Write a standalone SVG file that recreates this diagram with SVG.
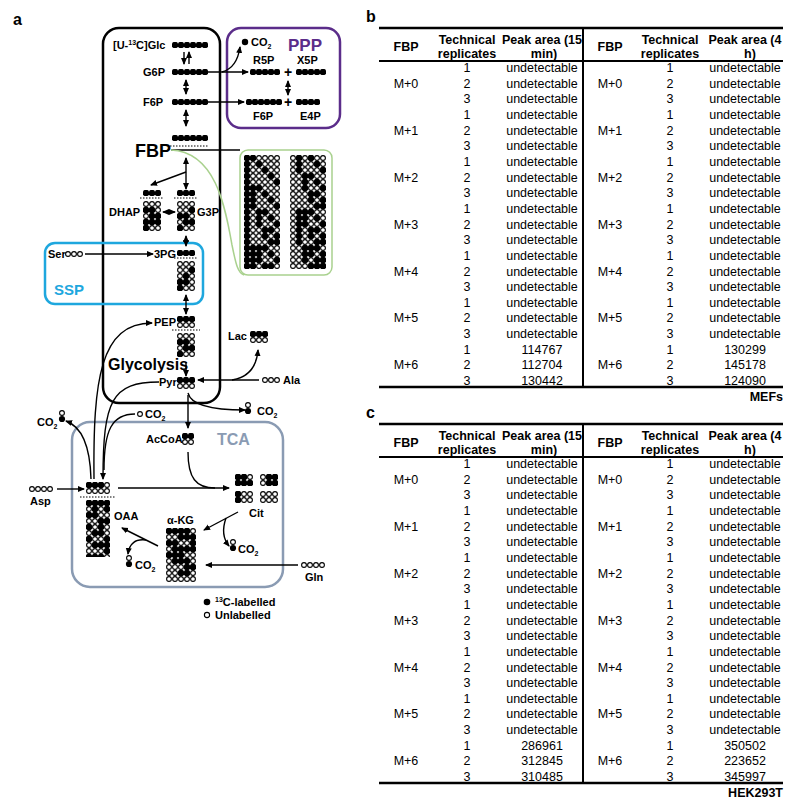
<svg xmlns="http://www.w3.org/2000/svg" width="800" height="811" viewBox="0 0 800 811">
<style>
text{font-family:"Liberation Sans",Arial,sans-serif;fill:#000}
.lb{font-weight:bold;font-size:11px}
.t{font-size:12.5px;text-anchor:middle}
.th{font-size:12.5px;font-weight:bold;text-anchor:middle}
.c{fill:none;stroke:#000;stroke-width:1.4}
.dot{stroke:#000;stroke-width:1;stroke-dasharray:1.5 1.5}
</style>
<defs>
<pattern id="o" width="6" height="6" patternUnits="userSpaceOnUse"><circle cx="3" cy="3" r="2.4" fill="#fff" stroke="#000" stroke-width="1.1"/></pattern>
<pattern id="f" width="6" height="6" patternUnits="userSpaceOnUse"><circle cx="3" cy="3" r="3.2" fill="#000"/></pattern>
<marker id="a" markerWidth="8" markerHeight="8" refX="6" refY="4" orient="auto" markerUnits="userSpaceOnUse"><path d="M0,1 L7,4 L0,7 Z" fill="#000"/></marker>
<marker id="s" markerWidth="8" markerHeight="8" refX="1" refY="4" orient="auto" markerUnits="userSpaceOnUse"><path d="M7,1 L0,4 L7,7 Z" fill="#000"/></marker>
</defs>
<rect width="800" height="811" fill="#fff"/>
<text x="13" y="25" font-size="16" font-weight="bold">a</text>
<text x="366" y="22" font-size="16" font-weight="bold">b</text>
<text x="366" y="418" font-size="16" font-weight="bold">c</text>

<g id="boxes">
<rect x="103" y="28" width="117" height="375" rx="16" fill="none" stroke="#000" stroke-width="2.5"/>
<rect x="227" y="28" width="113" height="100" rx="14" fill="none" stroke="#5b2d8a" stroke-width="2.5"/>
<text x="288" y="51" font-size="17" font-weight="bold" fill="#5b2d8a" style="fill:#5b2d8a">PPP</text>
<rect x="45" y="243" width="158" height="61" rx="10" fill="none" stroke="#1ea7de" stroke-width="2.5"/>
<text x="54" y="295" font-size="15" font-weight="bold" style="fill:#1ea7de">SSP</text>
<rect x="72" y="422" width="211" height="165" rx="18" fill="none" stroke="#8a9bb3" stroke-width="2.5"/>
<text x="217" y="445" font-size="16" font-weight="bold" style="fill:#8a9bb3">TCA</text>
<rect x="240" y="150" width="92" height="125" rx="8" fill="none" stroke="#a9d18e" stroke-width="1.5"/>
<text x="108" y="370" font-size="16" font-weight="bold">Glycolysis</text>
</g>

<g id="connectors">
<path class="c" d="M171,150 C205,150 225,150 240,150"/>
<path d="M171,150 C215,152 225,205 232,245 C236,265 238,273 244,275" fill="none" stroke="#a9d18e" stroke-width="1.5"/>
<path class="c" d="M184,52 L184,64" marker-end="url(#a)"/>
<path class="c" d="M189,64 L189,52" marker-end="url(#a)"/>
<path class="c" d="M208,72 L248,72" marker-end="url(#a)"/>
<path class="c" d="M222,72 Q237,68 240,47" marker-end="url(#a)"/>
<path class="c" d="M288,81 L288,95" marker-start="url(#s)" marker-end="url(#a)"/>
<path class="c" d="M208,102 L244,102" marker-end="url(#a)"/>
<path class="c" d="M186,80 L186,94" marker-start="url(#s)" marker-end="url(#a)"/>
<path class="c" d="M186,110 L186,126" marker-start="url(#s)" marker-end="url(#a)"/>
<path class="c" d="M186,158 L186,189" marker-start="url(#s)" marker-end="url(#a)"/>
<path class="c" d="M186,172 L151,185" marker-end="url(#a)"/>
<path class="c" d="M163,212 L175,212" marker-start="url(#s)" marker-end="url(#a)"/>
<path class="c" d="M186,236 L186,246" marker-start="url(#s)" marker-end="url(#a)"/>
<path class="c" d="M85,254 L153,254" marker-end="url(#a)"/>
<path class="c" d="M186,295 L186,314" marker-start="url(#s)" marker-end="url(#a)"/>
<path class="c" d="M186,362 L186,376" marker-end="url(#a)"/>
<path class="c" d="M259,380 L198,380" marker-end="url(#a)"/>
<path class="c" d="M232,380 Q256,376 258,350" marker-end="url(#a)"/>
<path class="c" d="M188,393 Q192,410 245,410" marker-end="url(#a)"/>
<path class="c" d="M188,395 L188,428" marker-end="url(#a)"/>
<path class="c" d="M188,452 C188,478 196,488 215,488"/>
<path class="c" d="M118,488 L229,488" marker-end="url(#a)"/>
<path class="c" d="M94,479 C93,380 100,323 152,323" marker-end="url(#a)"/>
<path class="c" d="M159,382 C112,382 103,400 103,479" marker-end="url(#a)"/>
<path class="c" d="M135,414 C112,414 104,430 104,470"/>
<path class="c" d="M91,479 C90,442 80,426 66,421" marker-end="url(#a)"/>
<path class="c" d="M57,489 L84,489" marker-end="url(#a)"/>
<path class="c" d="M238,512 L204,530" marker-end="url(#a)"/>
<path class="c" d="M226,518 Q220,535 229,546" marker-end="url(#a)"/>
<path class="c" d="M158,546 L122,528" marker-end="url(#a)"/>
<path class="c" d="M146,540 Q130,538 128,554" marker-end="url(#a)"/>
<path class="c" d="M298,565 L206,565" marker-end="url(#a)"/>
</g>

<g id="glycolysis-nodes">
<text class="lb" x="113" y="49">[U-<tspan font-size="7" dy="-4">13</tspan><tspan dy="4">C]Glc</tspan></text>
<g transform="translate(172,42)"><rect width="36" height="6" fill="url(#f)"/></g>
<text class="lb" x="143" y="76">G6P</text>
<g transform="translate(172,69)"><rect width="36" height="6" fill="url(#f)"/></g>
<text class="lb" x="143" y="106">F6P</text>
<g transform="translate(172,99)"><rect width="36" height="6" fill="url(#f)"/></g>
<text x="135" y="157" font-size="18" font-weight="bold">FBP</text>
<g transform="translate(172,135)"><rect width="36" height="6" fill="url(#f)"/></g>
<line class="dot" x1="170" y1="146" x2="208" y2="146"/>
<text class="lb" x="109" y="216">DHAP</text>
<g transform="translate(143,190)"><rect width="18" height="6" fill="url(#f)"/></g>
<line class="dot" x1="140" y1="198" x2="163" y2="198"/>
<g transform="translate(143,201)"><rect width="18" height="30" fill="url(#o)"/><rect x="0" y="6" width="12" height="6" fill="url(#f)"/><rect x="6" y="12" width="12" height="6" fill="url(#f)"/><rect x="0" y="18" width="18" height="6" fill="url(#f)"/><rect x="0" y="24" width="6" height="6" fill="url(#f)"/></g>
<text class="lb" x="197" y="216">G3P</text>
<g transform="translate(177,190)"><rect width="18" height="6" fill="url(#f)"/></g>
<line class="dot" x1="174" y1="198" x2="198" y2="198"/>
<g transform="translate(177,201)"><rect width="18" height="30" fill="url(#o)"/><rect x="12" y="6" width="6" height="6" fill="url(#f)"/><rect x="0" y="12" width="12" height="6" fill="url(#f)"/><rect x="6" y="18" width="12" height="6" fill="url(#f)"/><rect x="0" y="24" width="6" height="6" fill="url(#f)"/></g>
<text class="lb" x="154" y="258">3PG</text>
<g transform="translate(177,250)"><rect width="18" height="6" fill="url(#f)"/></g>
<line class="dot" x1="174" y1="258" x2="198" y2="258"/>
<g transform="translate(177,261)"><rect width="18" height="30" fill="url(#o)"/><rect x="12" y="6" width="6" height="6" fill="url(#f)"/><rect x="6" y="12" width="6" height="6" fill="url(#f)"/><rect x="0" y="18" width="12" height="6" fill="url(#f)"/><rect x="0" y="24" width="6" height="6" fill="url(#f)"/></g>
<text class="lb" x="48" y="258">Ser</text>
<g transform="translate(65,251)"><rect width="18" height="6" fill="url(#o)"/></g>
<text class="lb" x="154" y="326">PEP</text>
<g transform="translate(177,316)"><rect width="18" height="6" fill="url(#f)"/><rect y="6" width="18" height="6" fill="url(#o)"/></g>
<line class="dot" x1="172" y1="330" x2="200" y2="330"/>
<g transform="translate(177,333)"><rect width="18" height="24" fill="url(#o)"/><rect x="0" y="6" width="12" height="6" fill="url(#f)"/><rect x="6" y="12" width="12" height="6" fill="url(#f)"/><rect x="0" y="18" width="6" height="6" fill="url(#f)"/></g>
<text class="lb" x="159" y="386">Pyr</text>
<g transform="translate(177,377)"><rect width="18" height="6" fill="url(#f)"/><rect y="6" width="18" height="6" fill="url(#o)"/></g>
<text class="lb" x="228" y="340">Lac</text>
<g transform="translate(250,331)"><rect width="18" height="6" fill="url(#f)"/><rect y="6" width="18" height="6" fill="url(#o)"/></g>
<g transform="translate(262,377)"><rect width="18" height="6" fill="url(#o)"/></g>
<text class="lb" x="283" y="384">Ala</text>
</g>

<g id="fbp-isotopomers">
<g transform="translate(244,155)"><rect width="36" height="114" fill="url(#o)"/>
<g fill="url(#f)"><rect width="6" height="114"/><rect x="6" y="0" width="6" height="6"/><rect x="12" y="6" width="6" height="6"/><rect x="18" y="12" width="6" height="6"/><rect x="24" y="18" width="6" height="6"/><rect x="30" y="24" width="6" height="6"/><rect x="6" y="30" width="12" height="6"/><rect x="6" y="36" width="6" height="6"/><rect x="18" y="36" width="6" height="6"/><rect x="6" y="42" width="6" height="6"/><rect x="24" y="42" width="6" height="6"/><rect x="6" y="48" width="6" height="6"/><rect x="30" y="48" width="6" height="6"/><rect x="12" y="54" width="12" height="6"/><rect x="12" y="60" width="6" height="6"/><rect x="24" y="60" width="6" height="6"/><rect x="12" y="66" width="6" height="6"/><rect x="30" y="66" width="6" height="6"/><rect x="18" y="72" width="12" height="6"/><rect x="18" y="78" width="6" height="6"/><rect x="30" y="78" width="6" height="6"/><rect x="24" y="84" width="12" height="6"/><rect x="6" y="90" width="18" height="6"/><rect x="6" y="96" width="12" height="6"/><rect x="24" y="96" width="6" height="6"/><rect x="6" y="102" width="12" height="6"/><rect x="30" y="102" width="6" height="6"/><rect x="6" y="108" width="6" height="6"/><rect x="18" y="108" width="12" height="6"/></g></g>
<g transform="translate(290,155)"><rect width="36" height="114" fill="url(#o)"/>
<g fill="url(#f)"><rect x="6" y="0" width="6" height="6"/><rect x="18" y="0" width="6" height="6"/><rect x="6" y="6" width="6" height="6"/><rect x="24" y="6" width="6" height="6"/><rect x="6" y="12" width="6" height="6"/><rect x="30" y="12" width="6" height="6"/><rect x="12" y="18" width="12" height="6"/><rect x="12" y="24" width="6" height="6"/><rect x="24" y="24" width="6" height="6"/><rect x="12" y="30" width="6" height="6"/><rect x="30" y="30" width="6" height="6"/><rect x="18" y="36" width="12" height="6"/><rect x="18" y="42" width="6" height="6"/><rect x="30" y="42" width="6" height="6"/><rect x="24" y="48" width="12" height="6"/><rect x="6" y="54" width="18" height="6"/><rect x="6" y="60" width="12" height="6"/><rect x="24" y="60" width="6" height="6"/><rect x="6" y="66" width="12" height="6"/><rect x="30" y="66" width="6" height="6"/><rect x="6" y="72" width="6" height="6"/><rect x="18" y="72" width="12" height="6"/><rect x="6" y="78" width="6" height="6"/><rect x="18" y="78" width="6" height="6"/><rect x="30" y="78" width="6" height="6"/><rect x="6" y="84" width="6" height="6"/><rect x="24" y="84" width="12" height="6"/><rect x="12" y="90" width="18" height="6"/><rect x="12" y="96" width="12" height="6"/><rect x="30" y="96" width="6" height="6"/><rect x="12" y="102" width="6" height="6"/><rect x="24" y="102" width="12" height="6"/><rect x="18" y="108" width="18" height="6"/></g></g>
</g>

<g id="ppp-nodes">
<circle cx="245" cy="42" r="3.2"/>
<text class="lb" x="251" y="46">CO<tspan font-size="7" dy="3">2</tspan></text>
<text class="lb" x="253" y="64">R5P</text>
<g transform="translate(250,69)"><rect width="30" height="6" fill="url(#f)"/></g>
<text x="284" y="77" font-size="14" font-weight="bold">+</text>
<text class="lb" x="297" y="64">X5P</text>
<g transform="translate(296,69)"><rect width="30" height="6" fill="url(#f)"/></g>
<g transform="translate(246,99)"><rect width="36" height="6" fill="url(#f)"/></g>
<text x="284" y="107" font-size="14" font-weight="bold">+</text>
<g transform="translate(296,99)"><rect width="24" height="6" fill="url(#f)"/></g>
<text class="lb" x="253" y="120">F6P</text>
<text class="lb" x="300" y="120">E4P</text>
</g>

<g id="tca-nodes">
<g transform="translate(245,403)"><circle cx="3" cy="2" r="2.4" fill="#fff" stroke="#000" stroke-width="1.1"/><circle cx="3" cy="8" r="3.1"/></g>
<text class="lb" x="257" y="415">CO<tspan font-size="7" dy="3">2</tspan></text>
<text class="lb" x="37" y="426">CO<tspan font-size="7" dy="3">2</tspan></text>
<g transform="translate(59,411)"><circle cx="3" cy="2" r="2.4" fill="#fff" stroke="#000" stroke-width="1.1"/><circle cx="3" cy="8" r="3.1"/></g>
<circle cx="140" cy="414" r="2.4" fill="#fff" stroke="#000" stroke-width="1.1"/>
<text class="lb" x="145" y="418">CO<tspan font-size="7" dy="3">2</tspan></text>
<text class="lb" x="146" y="443">AcCoA</text>
<g transform="translate(182,433)"><rect width="12" height="6" fill="url(#f)"/><rect y="6" width="12" height="6" fill="url(#o)"/></g>
<g transform="translate(29,486)"><rect width="24" height="6" fill="url(#o)"/></g>
<text class="lb" x="30" y="505">Asp</text>
<g transform="translate(86,482)"><rect width="24" height="12" fill="url(#o)"/><rect width="18" height="6" fill="url(#f)"/></g>
<line class="dot" x1="80" y1="497" x2="116" y2="497"/>
<g transform="translate(86,500)"><rect width="24" height="57" fill="url(#o)"/>
<g fill="url(#f)"><rect width="24" height="6"/><rect x="6" y="6" width="6" height="6"/><rect x="18" y="6" width="6" height="6"/><rect x="0" y="12" width="12" height="6"/><rect x="12" y="18" width="12" height="6"/><rect x="0" y="24" width="6" height="6"/><rect x="12" y="24" width="6" height="6"/><rect x="6" y="30" width="12" height="6"/><rect x="0" y="36" width="6" height="6"/><rect x="18" y="36" width="6" height="6"/><rect x="6" y="42" width="18" height="6"/><rect x="18" y="48" width="6" height="6"/><rect x="0" y="54" width="18" height="3"/></g></g>
<text class="lb" x="114" y="520">OAA</text>
<g transform="translate(235,474)"><rect width="18" height="12" fill="url(#o)"/><rect width="12" height="6" fill="url(#f)"/><rect y="6" width="18" height="6" fill="url(#f)"/></g>
<g transform="translate(260,474)"><rect width="18" height="12" fill="url(#o)"/><rect x="6" width="12" height="12" fill="url(#f)"/></g>
<g transform="translate(235,491)"><rect width="18" height="12" fill="url(#o)"/><rect width="6" height="12" fill="url(#f)"/></g>
<g transform="translate(260,491)"><rect width="18" height="12" fill="url(#o)"/></g>
<text class="lb" x="249" y="517">Cit</text>
<g transform="translate(230,540)"><circle cx="3" cy="2" r="2.4" fill="#fff" stroke="#000" stroke-width="1.1"/><circle cx="3" cy="8" r="3.1"/></g>
<text class="lb" x="238" y="553">CO<tspan font-size="7" dy="3">2</tspan></text>
<text class="lb" x="167" y="524">α-KG</text>
<g transform="translate(166,528)"><rect width="30" height="54" fill="url(#o)"/>
<g fill="url(#f)"><rect width="24" height="6"/><rect x="12" y="6" width="18" height="6"/><rect x="0" y="12" width="12" height="6"/><rect x="24" y="12" width="6" height="6"/><rect x="6" y="18" width="24" height="6"/><rect x="0" y="24" width="18" height="6"/><rect x="6" y="30" width="18" height="6"/><rect x="18" y="36" width="12" height="6"/><rect x="12" y="42" width="12" height="6"/></g></g>
<g transform="translate(126,556)"><circle cx="3" cy="2" r="2.4" fill="#fff" stroke="#000" stroke-width="1.1"/><circle cx="3" cy="8" r="3.1"/></g>
<text class="lb" x="135" y="569">CO<tspan font-size="7" dy="3">2</tspan></text>
<g transform="translate(301,562)"><rect width="24" height="6" fill="url(#o)"/></g>
<text class="lb" x="305" y="581">Gln</text>
</g>

<g id="legend">
<circle cx="207" cy="602" r="3.3"/>
<text class="lb" x="215" y="606"><tspan font-size="7" dy="-4">13</tspan><tspan dy="4">C-labelled</tspan></text>
<circle cx="207" cy="615" r="2.6" fill="#fff" stroke="#000" stroke-width="1.1"/>
<text class="lb" x="215" y="619">Unlabelled</text>
</g>

<g id="table-b">
<line x1="379" y1="28" x2="783" y2="28" stroke="#000" stroke-width="2.5"/>
<line x1="379" y1="61" x2="783" y2="61" stroke="#000" stroke-width="2"/>
<line x1="379" y1="387" x2="783" y2="387" stroke="#000" stroke-width="2.5"/>
<line x1="583" y1="28" x2="583" y2="387" stroke="#000" stroke-width="2"/>
<text class="th" x="406" y="51">FBP</text><text class="th" x="467" y="44">Technical</text><text class="th" x="467" y="58">replicates</text><text class="th" x="542" y="44">Peak area (15</text><text class="th" x="544" y="58">min)</text>
<text class="th" x="610" y="51">FBP</text><text class="th" x="670" y="44">Technical</text><text class="th" x="670" y="58">replicates</text><text class="th" x="745" y="44">Peak area (4</text><text class="th" x="750" y="58">h)</text>
<g class="rows">
<text class="t" x="406" y="87.7">M+0</text><text class="t" x="406" y="134.6">M+1</text><text class="t" x="406" y="181.6">M+2</text><text class="t" x="406" y="228.5">M+3</text><text class="t" x="406" y="275.5">M+4</text><text class="t" x="406" y="322.4">M+5</text><text class="t" x="406" y="369.4">M+6</text>
<text class="t" x="610" y="87.7">M+0</text><text class="t" x="610" y="134.6">M+1</text><text class="t" x="610" y="181.6">M+2</text><text class="t" x="610" y="228.5">M+3</text><text class="t" x="610" y="275.5">M+4</text><text class="t" x="610" y="322.4">M+5</text><text class="t" x="610" y="369.4">M+6</text>
<text class="t" x="467" y="72">1</text><text class="t" x="467" y="87.7">2</text><text class="t" x="467" y="103.3">3</text><text class="t" x="467" y="119">1</text><text class="t" x="467" y="134.6">2</text><text class="t" x="467" y="150.3">3</text><text class="t" x="467" y="165.9">1</text><text class="t" x="467" y="181.6">2</text><text class="t" x="467" y="197.2">3</text><text class="t" x="467" y="212.9">1</text><text class="t" x="467" y="228.5">2</text><text class="t" x="467" y="244.2">3</text><text class="t" x="467" y="259.8">1</text><text class="t" x="467" y="275.5">2</text><text class="t" x="467" y="291.1">3</text><text class="t" x="467" y="306.8">1</text><text class="t" x="467" y="322.4">2</text><text class="t" x="467" y="338.1">3</text><text class="t" x="467" y="353.7">1</text><text class="t" x="467" y="369.4">2</text><text class="t" x="467" y="385">3</text>
<text class="t" x="670" y="72">1</text><text class="t" x="670" y="87.7">2</text><text class="t" x="670" y="103.3">3</text><text class="t" x="670" y="119">1</text><text class="t" x="670" y="134.6">2</text><text class="t" x="670" y="150.3">3</text><text class="t" x="670" y="165.9">1</text><text class="t" x="670" y="181.6">2</text><text class="t" x="670" y="197.2">3</text><text class="t" x="670" y="212.9">1</text><text class="t" x="670" y="228.5">2</text><text class="t" x="670" y="244.2">3</text><text class="t" x="670" y="259.8">1</text><text class="t" x="670" y="275.5">2</text><text class="t" x="670" y="291.1">3</text><text class="t" x="670" y="306.8">1</text><text class="t" x="670" y="322.4">2</text><text class="t" x="670" y="338.1">3</text><text class="t" x="670" y="353.7">1</text><text class="t" x="670" y="369.4">2</text><text class="t" x="670" y="385">3</text>
<text class="t" x="542" y="72">undetectable</text><text class="t" x="542" y="87.7">undetectable</text><text class="t" x="542" y="103.3">undetectable</text><text class="t" x="542" y="119">undetectable</text><text class="t" x="542" y="134.6">undetectable</text><text class="t" x="542" y="150.3">undetectable</text><text class="t" x="542" y="165.9">undetectable</text><text class="t" x="542" y="181.6">undetectable</text><text class="t" x="542" y="197.2">undetectable</text><text class="t" x="542" y="212.9">undetectable</text><text class="t" x="542" y="228.5">undetectable</text><text class="t" x="542" y="244.2">undetectable</text><text class="t" x="542" y="259.8">undetectable</text><text class="t" x="542" y="275.5">undetectable</text><text class="t" x="542" y="291.1">undetectable</text><text class="t" x="542" y="306.8">undetectable</text><text class="t" x="542" y="322.4">undetectable</text><text class="t" x="542" y="338.1">undetectable</text>
<text class="t" x="745" y="72">undetectable</text><text class="t" x="745" y="87.7">undetectable</text><text class="t" x="745" y="103.3">undetectable</text><text class="t" x="745" y="119">undetectable</text><text class="t" x="745" y="134.6">undetectable</text><text class="t" x="745" y="150.3">undetectable</text><text class="t" x="745" y="165.9">undetectable</text><text class="t" x="745" y="181.6">undetectable</text><text class="t" x="745" y="197.2">undetectable</text><text class="t" x="745" y="212.9">undetectable</text><text class="t" x="745" y="228.5">undetectable</text><text class="t" x="745" y="244.2">undetectable</text><text class="t" x="745" y="259.8">undetectable</text><text class="t" x="745" y="275.5">undetectable</text><text class="t" x="745" y="291.1">undetectable</text><text class="t" x="745" y="306.8">undetectable</text><text class="t" x="745" y="322.4">undetectable</text><text class="t" x="745" y="338.1">undetectable</text>
</g>
<text class="t" x="542" y="353.7">114767</text><text class="t" x="542" y="369.4">112704</text><text class="t" x="542" y="385">130442</text>
<text class="t" x="745" y="353.7">130299</text><text class="t" x="745" y="369.4">145178</text><text class="t" x="745" y="385">124090</text>
<text x="783" y="401" font-size="12.5" font-weight="bold" text-anchor="end">MEFs</text>
</g>

<g id="table-c" transform="translate(0,396)">
<line x1="379" y1="28" x2="783" y2="28" stroke="#000" stroke-width="2.5"/>
<line x1="379" y1="61" x2="783" y2="61" stroke="#000" stroke-width="2"/>
<line x1="379" y1="387" x2="783" y2="387" stroke="#000" stroke-width="2.5"/>
<line x1="583" y1="28" x2="583" y2="387" stroke="#000" stroke-width="2"/>
<text class="th" x="406" y="51">FBP</text><text class="th" x="467" y="44">Technical</text><text class="th" x="467" y="58">replicates</text><text class="th" x="542" y="44">Peak area (15</text><text class="th" x="544" y="58">min)</text>
<text class="th" x="610" y="51">FBP</text><text class="th" x="670" y="44">Technical</text><text class="th" x="670" y="58">replicates</text><text class="th" x="745" y="44">Peak area (4</text><text class="th" x="750" y="58">h)</text>
<g class="rows">
<text class="t" x="406" y="87.7">M+0</text><text class="t" x="406" y="134.6">M+1</text><text class="t" x="406" y="181.6">M+2</text><text class="t" x="406" y="228.5">M+3</text><text class="t" x="406" y="275.5">M+4</text><text class="t" x="406" y="322.4">M+5</text><text class="t" x="406" y="369.4">M+6</text>
<text class="t" x="610" y="87.7">M+0</text><text class="t" x="610" y="134.6">M+1</text><text class="t" x="610" y="181.6">M+2</text><text class="t" x="610" y="228.5">M+3</text><text class="t" x="610" y="275.5">M+4</text><text class="t" x="610" y="322.4">M+5</text><text class="t" x="610" y="369.4">M+6</text>
<text class="t" x="467" y="72">1</text><text class="t" x="467" y="87.7">2</text><text class="t" x="467" y="103.3">3</text><text class="t" x="467" y="119">1</text><text class="t" x="467" y="134.6">2</text><text class="t" x="467" y="150.3">3</text><text class="t" x="467" y="165.9">1</text><text class="t" x="467" y="181.6">2</text><text class="t" x="467" y="197.2">3</text><text class="t" x="467" y="212.9">1</text><text class="t" x="467" y="228.5">2</text><text class="t" x="467" y="244.2">3</text><text class="t" x="467" y="259.8">1</text><text class="t" x="467" y="275.5">2</text><text class="t" x="467" y="291.1">3</text><text class="t" x="467" y="306.8">1</text><text class="t" x="467" y="322.4">2</text><text class="t" x="467" y="338.1">3</text><text class="t" x="467" y="353.7">1</text><text class="t" x="467" y="369.4">2</text><text class="t" x="467" y="385">3</text>
<text class="t" x="670" y="72">1</text><text class="t" x="670" y="87.7">2</text><text class="t" x="670" y="103.3">3</text><text class="t" x="670" y="119">1</text><text class="t" x="670" y="134.6">2</text><text class="t" x="670" y="150.3">3</text><text class="t" x="670" y="165.9">1</text><text class="t" x="670" y="181.6">2</text><text class="t" x="670" y="197.2">3</text><text class="t" x="670" y="212.9">1</text><text class="t" x="670" y="228.5">2</text><text class="t" x="670" y="244.2">3</text><text class="t" x="670" y="259.8">1</text><text class="t" x="670" y="275.5">2</text><text class="t" x="670" y="291.1">3</text><text class="t" x="670" y="306.8">1</text><text class="t" x="670" y="322.4">2</text><text class="t" x="670" y="338.1">3</text><text class="t" x="670" y="353.7">1</text><text class="t" x="670" y="369.4">2</text><text class="t" x="670" y="385">3</text>
<text class="t" x="542" y="72">undetectable</text><text class="t" x="542" y="87.7">undetectable</text><text class="t" x="542" y="103.3">undetectable</text><text class="t" x="542" y="119">undetectable</text><text class="t" x="542" y="134.6">undetectable</text><text class="t" x="542" y="150.3">undetectable</text><text class="t" x="542" y="165.9">undetectable</text><text class="t" x="542" y="181.6">undetectable</text><text class="t" x="542" y="197.2">undetectable</text><text class="t" x="542" y="212.9">undetectable</text><text class="t" x="542" y="228.5">undetectable</text><text class="t" x="542" y="244.2">undetectable</text><text class="t" x="542" y="259.8">undetectable</text><text class="t" x="542" y="275.5">undetectable</text><text class="t" x="542" y="291.1">undetectable</text><text class="t" x="542" y="306.8">undetectable</text><text class="t" x="542" y="322.4">undetectable</text><text class="t" x="542" y="338.1">undetectable</text>
<text class="t" x="745" y="72">undetectable</text><text class="t" x="745" y="87.7">undetectable</text><text class="t" x="745" y="103.3">undetectable</text><text class="t" x="745" y="119">undetectable</text><text class="t" x="745" y="134.6">undetectable</text><text class="t" x="745" y="150.3">undetectable</text><text class="t" x="745" y="165.9">undetectable</text><text class="t" x="745" y="181.6">undetectable</text><text class="t" x="745" y="197.2">undetectable</text><text class="t" x="745" y="212.9">undetectable</text><text class="t" x="745" y="228.5">undetectable</text><text class="t" x="745" y="244.2">undetectable</text><text class="t" x="745" y="259.8">undetectable</text><text class="t" x="745" y="275.5">undetectable</text><text class="t" x="745" y="291.1">undetectable</text><text class="t" x="745" y="306.8">undetectable</text><text class="t" x="745" y="322.4">undetectable</text><text class="t" x="745" y="338.1">undetectable</text>
</g>
<text class="t" x="542" y="353.7">286961</text><text class="t" x="542" y="369.4">312845</text><text class="t" x="542" y="385">310485</text>
<text class="t" x="745" y="353.7">350502</text><text class="t" x="745" y="369.4">223652</text><text class="t" x="745" y="385">345997</text>
<text x="783" y="401" font-size="12.5" font-weight="bold" text-anchor="end">HEK293T</text>
</g>
</svg>
